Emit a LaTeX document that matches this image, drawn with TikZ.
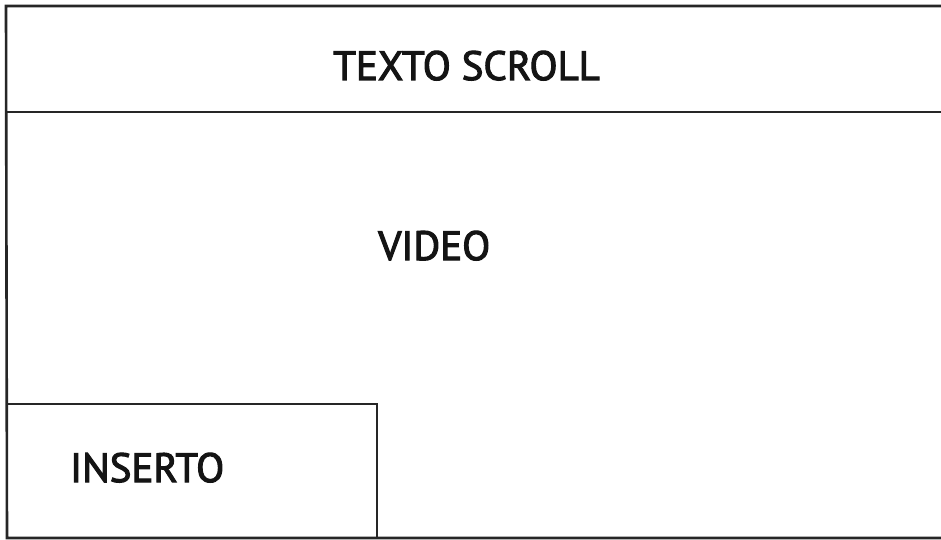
\documentclass[tikz,border=0pt]{standalone}
\usepackage{fontspec}
\setmainfont{PT Sans}
\newfontfamily\lblfont{PT Sans}[FakeBold=2.6]
\begin{document}
\begin{tikzpicture}[x=1pt,y=-1pt,
  frame/.style={draw=black!85,line width=2.6pt},
  lbl/.style={font=\lblfont\fontsize{41}{41}\selectfont,text=black!92,inner sep=0pt,anchor=base west}]
\useasboundingbox (0,0) rectangle (941,540);
\fill[white] (0,0) rectangle (941,540);
\coordinate (tl) at (6,6);
\coordinate (tr) at (945,6);
\coordinate (bl) at (7,538);
\coordinate (br) at (945,538);
\draw[frame] (tr) -- (tl) -- (bl) -- (br);
\coordinate (ml) at (6,112);
\coordinate (mr) at (945,112);
\draw[frame] (ml) -- (mr);
\coordinate (it) at (7,404);
\coordinate (itr) at (377,404);
\coordinate (ibr) at (377,538);
\draw[frame] (it) -- (itr) -- (ibr);
\node[lbl] (scroll) at (333,80) {TEXTO SCROLL};
\node[lbl] (video) at (378,260) {VIDEO};
\node[lbl] (ins) at (70,482) {INSERTO};
\end{tikzpicture}
\end{document}
